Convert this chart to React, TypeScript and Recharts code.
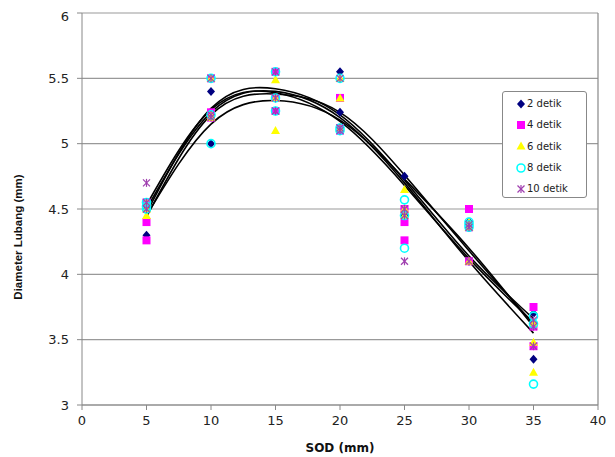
import React from 'react';
import { ComposedChart, Scatter, Line, XAxis, YAxis, CartesianGrid, Legend, ReferenceLine } from 'recharts';

const sod = [5, 10, 15, 20, 25, 30, 35];
const xTicks = [0, 5, 10, 15, 20, 25, 30, 35, 40];
const yTicks = [3, 3.5, 4, 4.5, 5, 5.5, 6];
const seriesNames = ['2 detik', '4 detik', '6 detik', '8 detik', '10 detik'];

// observed diameters (3 readings per SOD)
const obs2 = [[4.30, 4.50, 4.55], [5.40, 5.22, 5.00], [5.35, 5.35, 5.25], [5.55, 5.24, 5.12], [4.75, 4.50, 4.45], [4.40, 4.36, 4.10], [3.70, 3.62, 3.35]];
const obs4 = [[4.26, 4.40, 4.55], [5.50, 5.24, 5.20], [5.55, 5.35, 5.25], [5.35, 5.12, 5.10], [4.50, 4.40, 4.26], [4.50, 4.36, 4.10], [3.75, 3.60, 3.45]];
const obs6 = [[4.45, 4.50, 4.55], [5.50, 5.22, 5.20], [5.49, 5.35, 5.10], [5.50, 5.35, 5.12], [4.65, 4.50, 4.45], [4.40, 4.36, 4.10], [3.63, 3.48, 3.25]];
const obs8 = [[4.50, 4.52, 4.55], [5.50, 5.00, 5.22], [5.55, 5.35, 5.25], [5.50, 5.12, 5.10], [4.57, 4.45, 4.20], [4.40, 4.38, 4.36], [3.68, 3.62, 3.16]];
const obs10 = [[4.70, 4.50, 4.55], [5.50, 5.22, 5.20], [5.55, 5.35, 5.25], [5.50, 5.12, 5.10], [4.50, 4.45, 4.10], [4.38, 4.36, 4.10], [3.65, 3.60, 3.45]];

// trendline values read at each SOD
const trend2 = [4.44, 5.22, 5.38, 5.24, 4.76, 4.18, 3.62];
const trend4 = [4.47, 5.27, 5.42, 5.22, 4.72, 4.14, 3.66];
const trend6 = [4.50, 5.24, 5.40, 5.20, 4.70, 4.10, 3.55];
const trend8 = [4.45, 5.15, 5.33, 5.18, 4.73, 4.20, 3.60];
const trend10 = [4.53, 5.26, 5.39, 5.17, 4.68, 4.12, 3.63];

const toPoints = (obs: number[][]) => {
  const pts: { x: number; y: number }[] = [];
  obs.forEach((row, i) => row.forEach((v) => pts.push({ x: sod[i], y: v })));
  return pts;
};
const toTrend = (t: number[]) => t.map((v, i) => ({ x: sod[i], y: v }));

const allObs = [obs2, obs4, obs6, obs8, obs10];
const allTrends = [trend2, trend4, trend6, trend8, trend10];

const NAVY = '#000080';
const MAGENTA = '#ff00ff';
const YELLOW = '#ffff00';
const CYAN = '#00ffff';
const PURPLE = '#a040b0';

const Diamond = ({ cx, cy }: any) => (
  <polygon points={`${cx},${cy - 4.5} ${cx + 4},${cy} ${cx},${cy + 4.5} ${cx - 4},${cy}`} fill={NAVY} />
);
const Square = ({ cx, cy }: any) => <rect x={cx - 4} y={cy - 4} width={8} height={8} fill={MAGENTA} />;
const Triangle = ({ cx, cy }: any) => (
  <polygon points={`${cx},${cy - 4.5} ${cx + 4.5},${cy + 3.5} ${cx - 4.5},${cy + 3.5}`} fill={YELLOW} />
);
const Circle = ({ cx, cy }: any) => <circle cx={cx} cy={cy} r={4} fill="none" stroke={CYAN} strokeWidth={1.6} />;
const Star = ({ cx, cy }: any) => (
  <g stroke={PURPLE} strokeWidth={1.2}>
    <line x1={cx - 3.5} y1={cy - 3.5} x2={cx + 3.5} y2={cy + 3.5} />
    <line x1={cx - 3.5} y1={cy + 3.5} x2={cx + 3.5} y2={cy - 3.5} />
    <line x1={cx} y1={cy - 4} x2={cx} y2={cy + 4} />
  </g>
);
const shapes = [Diamond, Square, Triangle, Circle, Star];

const LegendBox = () => (
  <div
    style={{
      width: 85,
      height: 107,
      border: '1.5px solid #888',
      borderRadius: 3,
      background: '#fff',
      boxSizing: 'border-box',
      paddingTop: 1,
      fontFamily: 'DejaVu Sans',
      fontSize: 10,
      color: '#222',
    }}
  >
    {seriesNames.map((n, i) => {
      const Shape = shapes[i];
      return (
        <div key={n} style={{ display: 'flex', alignItems: 'center', height: 21.3, paddingLeft: 13 }}>
          <svg width={10} height={10} style={{ marginRight: 1 }}>
            <Shape cx={5} cy={5} />
          </svg>
          <span>{n}</span>
        </div>
      );
    })}
  </div>
);

const YLabel = () => (
  <text
    x={14}
    y={229}
    transform="rotate(-90, 14, 229)"
    textAnchor="middle"
    fontFamily="Liberation Sans"
    fontWeight="bold"
    fontSize={11.5}
    fill="#111"
  >
    Diameter Lubang (mm)
  </text>
);

const XLabel = () => (
  <text x={332} y={444} textAnchor="middle" fontFamily="DejaVu Sans" fontWeight="bold" fontSize={12} fill="#111">
    SOD (mm)
  </text>
);

export default function App() {
  const tickStyle = { fontFamily: 'DejaVu Sans', fontSize: 13, fill: '#222' };
  return (
    <div style={{ width: 607, height: 449, background: '#fff', position: 'relative' }}>
      <ComposedChart width={607} height={449} margin={{ top: 5, right: 17, bottom: 0, left: 34 }}>
        <CartesianGrid horizontal vertical={false} stroke="#999" strokeWidth={1.2} />
        <XAxis
          type="number"
          dataKey="x"
          domain={[0, 40]}
          ticks={xTicks}
          allowDataOverflow
          height={52}
          stroke="#888"
          tickSize={5}
          tickMargin={6}
          tick={tickStyle}
          label={XLabel}
        />
        <YAxis
          type="number"
          dataKey="y"
          domain={[3, 6]}
          ticks={yTicks}
          allowDataOverflow
          width={40}
          stroke="#888"
          tickSize={5}
          tickMargin={8}
          tick={tickStyle}
          label={YLabel}
        />
        <ReferenceLine x={40} stroke="#888" strokeWidth={1.2} />
        {allObs.map((obs, i) => (
          <Scatter
            key={seriesNames[i]}
            name={seriesNames[i]}
            data={toPoints(obs)}
            dataKey="y"
            shape={shapes[i]}
            isAnimationActive={false}
          />
        ))}
        {allTrends.map((t, i) => (
          <Line
            key={'trend' + i}
            data={toTrend(t)}
            dataKey="y"
            type="natural"
            stroke="#000"
            strokeWidth={1.6}
            dot={false}
            activeDot={false}
            legendType="none"
            isAnimationActive={false}
          />
        ))}
        <Legend
          layout="vertical"
          align="center"
          verticalAlign="middle"
          content={LegendBox}
          wrapperStyle={{ position: 'absolute', left: 494, top: 83, width: 85, height: 107 }}
        />
      </ComposedChart>
    </div>
  );
}
